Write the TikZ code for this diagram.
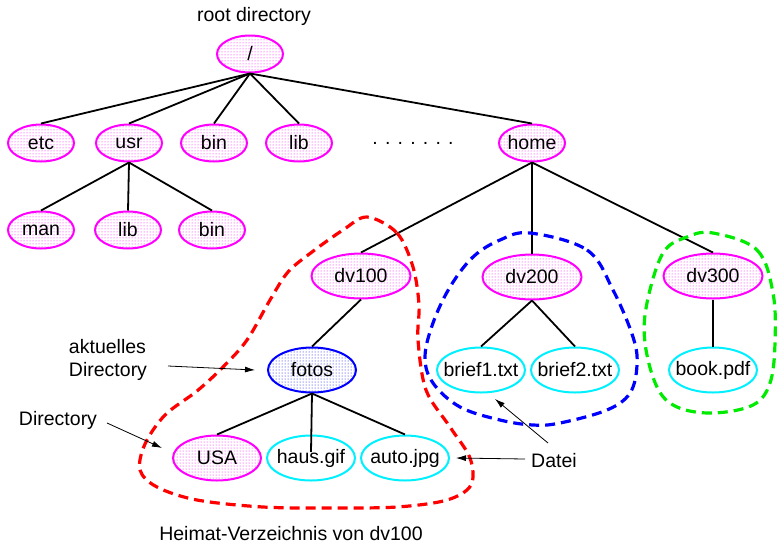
\documentclass[tikz,border=0pt]{standalone}
\usepackage{fontspec}
\setmainfont{Liberation Sans}
\usetikzlibrary{shapes.geometric,patterns,arrows.meta}

\definecolor{rosa}{RGB}{255,0,255}
\definecolor{tuerkis}{RGB}{0,240,255}
\definecolor{gruen}{RGB}{0,235,0}

\tikzset{
	verz/.style={ellipse, draw=rosa, line width=2pt, pattern=dots, pattern color=rosa, minimum width=66pt, minimum height=37pt, inner xsep=-8pt, inner ysep=0pt},
	verzgross/.style={verz, minimum width=99pt, minimum height=45pt},
	aktuell/.style={verz, draw=blue, pattern color=blue, minimum width=88pt, minimum height=45pt},
	datei/.style={ellipse, draw=tuerkis, line width=2pt, minimum width=88pt, minimum height=45pt, inner xsep=-8pt, inner ysep=0pt},
	kante/.style={line width=1.8pt},
	pfeil/.style={line width=0.8pt, -{Latex[length=10pt,width=6pt]}},
	huelle/.style={line width=3.2pt, dash pattern=on 10pt off 6pt}
}

\begin{document}
\begin{tikzpicture}[x=1pt, y=-1pt, font=\fontsize{19.5}{23}\selectfont]
	%%%%% START %%%%%
	\useasboundingbox (0,0) rectangle (777,547);
	
	\node (wurzeltext) at (254, 16) {root directory};
	\node[verz] (root) at (250, 54) {/};
	
	\node[verz] (etc) at (41, 143) {etc};
	\node[verz] (usr) at (129, 143) {usr};
	\node[verz] (bin) at (214, 143) {bin};
	\node[verz] (lib) at (299, 143) {lib};
	\node (punkte) at (413, 143) {. . . . . . .};
	\node[verz] (home) at (532, 143) {home};
	
	\node[verz] (man) at (41, 230) {man};
	\node[verz] (usrlib) at (128, 230) {lib};
	\node[verz] (usrbin) at (212, 230) {bin};
	
	\node[verzgross] (dv100) at (361, 276) {dv100};
	\node[verzgross] (dv200) at (532, 277) {dv200};
	\node[verzgross] (dv300) at (713, 276) {dv300};
	
	\node[aktuell] (fotos) at (312, 370) {fotos};
	\node[datei] (brief1) at (481, 370) {brief1.txt};
	\node[datei] (brief2) at (575, 370) {brief2.txt};
	\node[datei] (book) at (713, 370) {book.pdf};
	
	\node[verz, minimum width=88pt, minimum height=45pt] (usa) at (217, 458) {USA};
	\node[datei] (haus) at (311, 458) {haus.gif};
	\node[datei] (auto) at (405, 458) {auto.jpg};
	
	% kanten
	\foreach \k in {etc, usr, bin, lib, home}
		\draw[kante] (root.south) -- (\k.north);
	\foreach \k in {man, usrlib, usrbin}
		\draw[kante] (usr.south) -- (\k.north);
	\foreach \k in {dv100, dv200, dv300}
		\draw[kante] (home.south) -- (\k.north);
	\draw[kante] (dv100.south) -- (fotos.north);
	\draw[kante] (dv200.south) -- (brief1.north);
	\draw[kante] (dv200.south) -- (brief2.north);
	\draw[kante] (dv300.south) -- (book.north);
	\draw[kante] (fotos.south) -- (usa.north);
	\draw[kante] (fotos.south) -- ([yshift=6pt]haus.center);
	\draw[kante] (fotos.south) -- (auto.north);
	
	% huellen
	\draw[huelle, red] plot[smooth cycle, tension=0.55] coordinates {
		(367,217) (397,233) (413,267) (419,305) (418,340) (426,390) (450,427)
		(470,458) (471,485) (447,500) (397,507) (330,508) (263,507) (197,500)
		(157,487) (140,470) (145,444) (165,415) (197,391) (223,367) (247,340)
		(270,300) (288,272) (312,252) (343,230)};
	\draw[huelle, blue] plot[smooth cycle, tension=0.6] coordinates {
		(530,233) (587,250) (613,290) (633,337) (637,365) (630,393) (607,410)
		(560,423) (533,425) (500,420) (460,407) (433,383) (425,357) (433,323)
		(450,287) (473,257) (500,240)};
	\draw[huelle, gruen] plot[smooth cycle, tension=0.6] coordinates {
		(713,233) (757,250) (773,293) (775,343) (770,383) (753,405) (713,413)
		(677,407) (657,387) (645,343) (647,303) (663,253) (687,237)};
	
	% beschriftungen
	\node[align=left] (akt) at (108, 360) {aktuelles\\Directory};
	\coordinate (aktstart) at (168, 366);
	\draw[pfeil] (aktstart) -- ([xshift=-12pt]fotos.west);
	
	\node (verztext) at (58, 420) {Directory};
	\coordinate (verzstart) at (107, 423);
	\coordinate (verzziel) at (162, 448);
	\draw[pfeil] (verzstart) -- (verzziel);
	
	\node (dateitext) at (554, 461) {Datei};
	\coordinate (dateistart1) at (548, 443);
	\coordinate (dateiziel1) at (495, 399);
	\draw[pfeil] (dateistart1) -- (dateiziel1);
	\coordinate (dateistart2) at (525, 459);
	\draw[pfeil] (dateistart2) -- ([xshift=6pt]auto.east);
	
	\node (heimat) at (291, 534) {Heimat-Verzeichnis von dv100};
	%%%%% END %%%%%
\end{tikzpicture}
\end{document}
